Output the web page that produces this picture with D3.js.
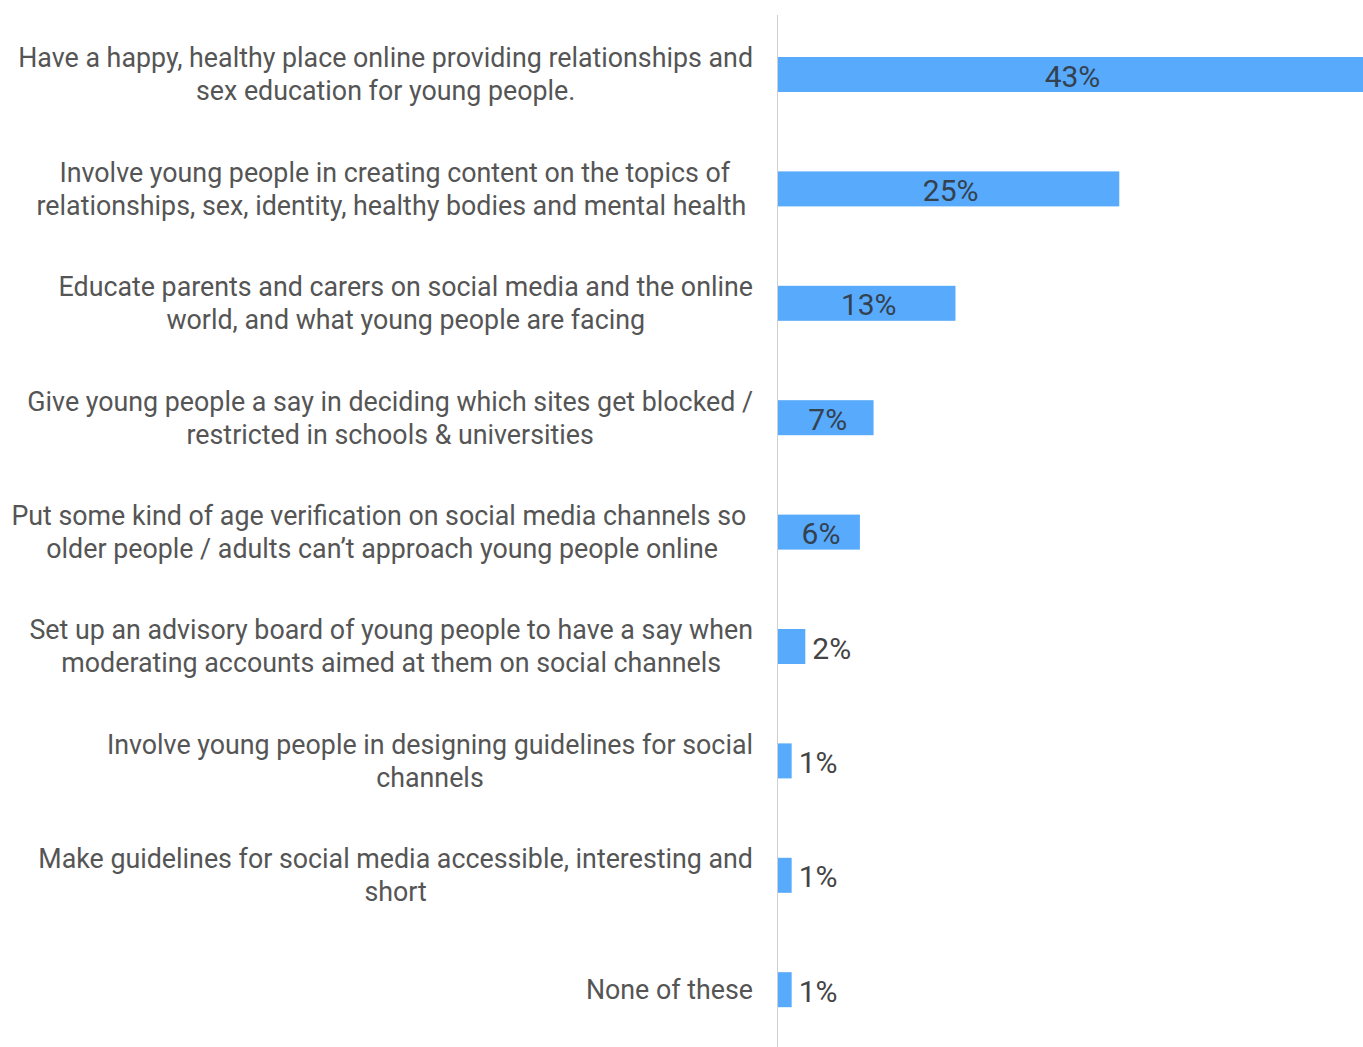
<!DOCTYPE html>
<html>
<head>
<meta charset="utf-8">
<script src="https://cdn.jsdelivr.net/npm/d3@7"></script>
<style>
  html, body { margin: 0; padding: 0; background: #fff; }
  svg { display: block; }
  text { font-family: Roboto, "Noto Sans", sans-serif; }
</style>
</head>
<body>
<svg id="chart" width="1363" height="1047"></svg>
<script>
// Survey answers, each label split into its printed lines
const categories = [
  ["Have a happy, healthy place online providing relationships and", "sex education for young people."],
  ["Involve young people in creating content on the topics of", "relationships, sex, identity, healthy bodies and mental health "],
  ["Educate parents and carers on social media and the online", "world, and what young people are facing"],
  ["Give young people a say in deciding which sites get blocked /", "restricted in schools & universities"],
  ["Put some kind of age verification on social media channels so ", "older people / adults can\u2019t approach young people online"],
  ["Set up an advisory board of young people to have a say when", "moderating accounts aimed at them on social channels"],
  ["Involve young people in designing guidelines for social", "channels"],
  ["Make guidelines for social media accessible, interesting and", "short"],
  ["None of these"]
];
const values = [43, 25, 13, 7, 6, 2, 1, 1, 1];
const valueLabels = ["43%", "25%", "13%", "7%", "6%", "2%", "1%", "1%", "1%"];

const svg = d3.select("#chart");
const W = 1363, H = 1047;
const axisX = 778;
const labelRight = 753;

const y = d3.scaleBand()
  .domain(d3.range(categories.length))
  .range([17.3, 1046.9])
  .paddingInner(0.694)
  .paddingOuter(0.347);

const x = d3.scaleLinear()
  .domain([0, 43])
  .range([axisX, axisX + 587]);

// bars
svg.append("g").selectAll("rect")
  .data(values)
  .join("rect")
  .attr("x", x(0))
  .attr("y", (d, i) => y(i))
  .attr("width", d => x(d) - x(0))
  .attr("height", y.bandwidth())
  .attr("fill", "#57aafc");

// vertical baseline
svg.append("line")
  .attr("x1", axisX - 0.5).attr("x2", axisX - 0.5)
  .attr("y1", 15).attr("y2", H)
  .attr("stroke", "#cfcfcf").attr("stroke-width", 1);

// category labels: lines centred on each other, block aligned right
const fontSize = 26.8, lineGap = 33;
const lab = svg.append("g").attr("class", "cat-labels");
categories.forEach((lines, i) => {
  const cy = y(i) + y.bandwidth() / 2;
  const t = lab.append("text")
    .attr("font-size", fontSize)
    .attr("fill", "#555")
    .attr("text-anchor", "middle")
    .style("white-space", "pre");
  const spans = lines.map((s, k) => t.append("tspan")
    .attr("y", cy + (k - (lines.length - 1) / 2) * lineGap)
    .attr("dy", "0.35em")
    .text(s));
  const widest = d3.max(spans, s => s.node().getComputedTextLength());
  spans.forEach(s => s.attr("x", labelRight - widest / 2));
});

// value labels: centred in wide bars, after the end of short ones
const vl = svg.append("g");
values.forEach((v, i) => {
  const w = x(v) - x(0);
  const inside = w > 60;
  const right = Math.min(x(v), W);
  vl.append("text")
    .attr("x", inside ? (x(0) + right) / 2 + 2 : x(v) + 7)
    .attr("y", y(i) + y.bandwidth() / 2)
    .attr("dy", "0.4em")
    .attr("text-anchor", inside ? "middle" : "start")
    .attr("font-size", 30)
    .attr("fill", inside ? "#34414f" : "#444")
    .text(valueLabels[i]);
});
</script>
</body>
</html>
